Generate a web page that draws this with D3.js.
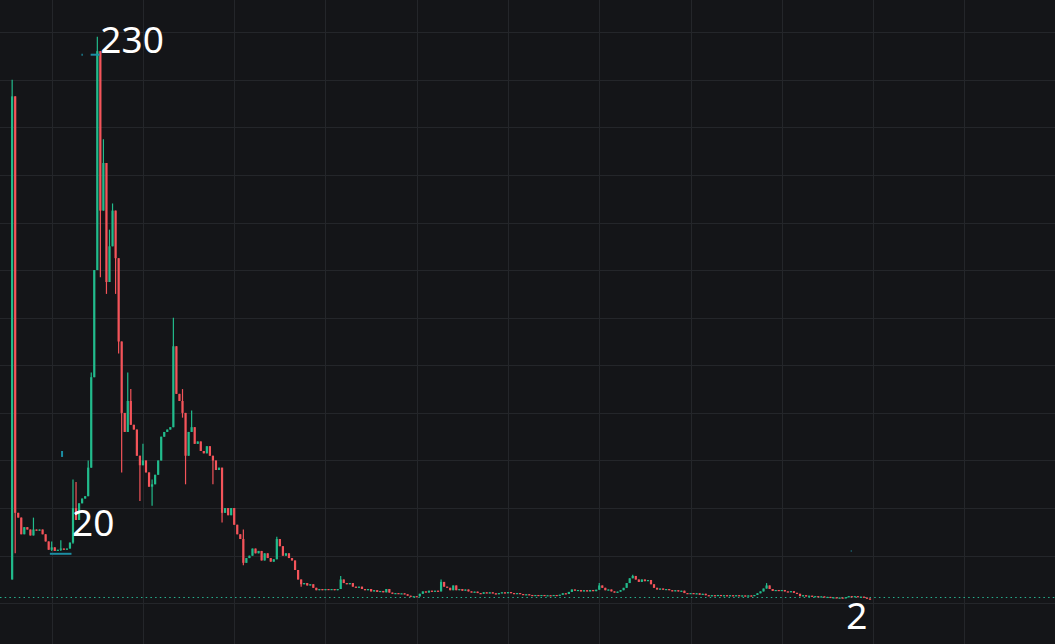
<!DOCTYPE html>
<meta charset="utf-8">
<style>
html, body { margin: 0; padding: 0; background: #141518; }
svg { display: block; }
</style>
<svg width="1055" height="644"></svg>
<script src="https://d3js.org/d3.v7.min.js"></script>
<script>

// daily closes, first candle is listing day (day -13)
var firstOpen = 10;
var closes = [
  213, 38, 36, 29, 32, 31, 28.5, 31, 30.5, 31,
  29, 26, 22.5, 23.5, 22, 22.5, 23, 22.5, 23, 25.5,
  40, 35, 42, 44, 45, 57, 95, 140, 232, 165,
  185, 135, 150, 165, 145, 110, 80, 72, 85, 75,
  73, 62, 58, 60, 55, 49, 50, 54, 60, 70,
  72, 73, 74, 108, 88, 85, 80, 62, 72, 74,
  67, 68, 64, 63, 66, 62, 60, 56, 57, 38,
  40, 37, 40, 33, 29, 27, 17, 19, 20, 23,
  21, 22, 18, 21, 19, 17.5, 18.5, 27, 24, 20,
  21, 19, 18, 14, 10, 8, 8.5, 7.5, 8, 6.5,
  5.5, 6, 5.5, 6, 5.8, 6, 5.5, 6, 10, 8.5,
  8, 8.5, 7, 6.5, 7, 6, 5.5, 6, 5, 5.5,
  4.8, 5.2, 4.6, 6, 4.5, 4, 4.3, 4, 4.2, 3.8,
  3.2, 2.8, 3, 2.9, 4, 5, 4.5, 5.3, 5, 5.3,
  5, 9, 7, 6.5, 5.5, 7.5, 5.5, 6, 5.3, 5.8,
  5, 4.6, 4.9, 4.3, 4, 4.6, 4.2, 4.6, 4.2, 3.8,
  4.3, 4.6, 4.2, 4.7, 4.3, 4, 4.3, 3.9, 3.6, 3.8,
  3.5, 3.3, 3.5, 3.3, 3.5, 3.3, 3.4, 3.2, 3.5, 3.3,
  3.6, 4.2, 3.9, 4.8, 5.8, 5.3, 5.6, 5, 5.5, 5,
  5.6, 5.1, 5.7, 7.5, 6.5, 5.5, 5.8, 5, 4.5, 4.9,
  5.5, 6.5, 8.5, 10.5, 11.5, 10, 9, 10, 9.3, 9.8,
  8, 6.5, 5.8, 6.2, 5.7, 6, 5.5, 5.1, 5.5, 5,
  5.3, 4.3, 4, 4.3, 3.9, 4.2, 3.6, 4, 3.4, 3.1,
  3.4, 3.1, 3.5, 3.2, 3.4, 3.1, 3.4, 3.2, 3.4, 3.1,
  3.3, 3, 3.3, 3, 3.5, 4.2, 5, 6.2, 7.5, 6,
  5.2, 5.6, 5.2, 5.6, 5, 4.8, 5.1, 4.4, 4, 3,
  3.4, 2.9, 3.2, 2.7, 3, 2.6, 2.9, 2.5, 2.7, 2.3,
  2.5, 2.2, 2.4, 2.2, 2.5, 3, 2.6, 3, 2.6, 2.8,
  2.4, 2, 1.7
];

// wicks that reach past the bodies: [candle, high, low]
var wicks = [
  [0, 220, 10], [1, 213, 21], [7, 36, 30], [13, 26, 22], [16, 26.5, 22],
  [20, 52, 25], [21, 51, 35], [25, 60, 45], [26, 97, 57], [28, 238, 140],
  [29, 232, 137], [30, 195, 165], [31, 185, 130], [32, 157, 135], [33, 168, 150],
  [34, 165, 130], [35, 145, 105], [36, 110, 55], [38, 97, 72], [39, 90, 75],
  [42, 62, 43], [43, 67, 58], [46, 52, 41], [53, 120, 74], [56, 90, 78],
  [57, 80, 50], [59, 81, 72], [66, 62, 50], [69, 57, 34], [76, 31, 16],
  [87, 28, 21], [95, 10, 7], [108, 11.5, 6], [141, 10, 5], [193, 8.5, 5.7],
  [204, 12, 10.5], [248, 8.5, 6.2]
];

var startDay = -13;
var gridDays = d3.range(0, 331, 30);
var gridPrices = d3.range(0, 241, 20);
var lastPrice = 2.5;

var labelText = ["230", "20", "2"];
var labelDay = [16, 6.7, 261.2];
var labelPrice = [231.2, 28.3, -10.8];

// small teal marks left on the chart
var lowLine = {from: -0.6, to: 6.5, price: 20.8};

var svg = d3.select("svg"),
    width = +svg.attr("width"),
    height = +svg.attr("height");

var x = d3.scaleLinear().domain([0, 300]).range([51.7, 964.3]),
    y = d3.scaleLinear().domain([0, 240]).range([603.3, 32.1]);

var up = "#22bb8c", down = "#f4545a";

var data = closes.map(function(c, i) {
  var o = i === 0 ? firstOpen : closes[i - 1];
  return {day: startDay + i, open: o, close: c, high: Math.max(o, c), low: Math.min(o, c)};
});
wicks.forEach(function(w) {
  var d = data[w[0]];
  d.high = Math.max(d.high, w[1]);
  d.low = Math.min(d.low, w[2]);
});

svg.append("rect").attr("width", width).attr("height", height).attr("fill", "#141518");

var grid = svg.append("g").attr("stroke", "#24262a").attr("stroke-width", 1);
grid.selectAll(".gx")
  .data(gridDays)
  .enter().append("line")
    .attr("x1", function(d) { return Math.round(x(d)) + 0.5; })
    .attr("x2", function(d) { return Math.round(x(d)) + 0.5; })
    .attr("y1", 0).attr("y2", height);
grid.selectAll(".gy")
  .data(gridPrices)
  .enter().append("line")
    .attr("y1", function(d) { return Math.round(y(d)) + 0.5; })
    .attr("y2", function(d) { return Math.round(y(d)) + 0.5; })
    .attr("x1", 0).attr("x2", width);

// last price line
svg.append("line")
    .attr("x1", 0).attr("x2", width)
    .attr("y1", Math.round(y(lastPrice)) + 0.5).attr("y2", Math.round(y(lastPrice)) + 0.5)
    .attr("stroke", "#26b08e")
    .attr("stroke-width", 1)
    .attr("stroke-dasharray", "1.5,3.2");

var candles = svg.append("g");
candles.selectAll(".wick")
  .data(data)
  .enter().append("line")
    .attr("x1", function(d) { return x(d.day); })
    .attr("x2", function(d) { return x(d.day); })
    .attr("y1", function(d) { return y(d.high); })
    .attr("y2", function(d) { return y(d.low); })
    .attr("stroke", function(d) { return d.close >= d.open ? up : down; })
    .attr("stroke-width", 1.2);

candles.selectAll(".body")
  .data(data)
  .enter().append("rect")
    .attr("x", function(d) { return x(d.day) - 1.1; })
    .attr("width", 2.2)
    .attr("y", function(d) { return y(Math.max(d.open, d.close)); })
    .attr("height", function(d) { return Math.max(1.2, Math.abs(y(d.open) - y(d.close))); })
    .attr("fill", function(d) { return d.close >= d.open ? up : down; });

// teal marks
var marks = svg.append("g").attr("stroke", "#1c8ea3").attr("stroke-width", 2);
marks.append("line")
    .attr("x1", x(lowLine.from)).attr("x2", x(lowLine.to))
    .attr("y1", y(lowLine.price)).attr("y2", y(lowLine.price));
marks.append("line")
    .attr("x1", x(12.8)).attr("x2", x(15.8))
    .attr("y1", y(230.5)).attr("y2", y(230.5));
marks.append("line")
    .attr("x1", x(9.8)).attr("x2", x(10.2))
    .attr("y1", y(230.5)).attr("y2", y(230.5));
marks.append("line")
    .attr("x1", x(3.4)).attr("x2", x(3.4))
    .attr("y1", y(64)).attr("y2", y(61.5));
marks.append("line")
    .attr("x1", x(262.7)).attr("x2", x(262.9))
    .attr("y1", y(22)).attr("y2", y(22));

svg.selectAll(".label")
  .data(labelText)
  .enter().append("text")
    .attr("x", function(d, i) { return x(labelDay[i]); })
    .attr("y", function(d, i) { return y(labelPrice[i]); })
    .attr("fill", "#ffffff")
    .style("font-family", "'Noto Sans', 'Open Sans', sans-serif")
    .style("font-size", "37px")
    .text(function(d) { return d; });

</script>
